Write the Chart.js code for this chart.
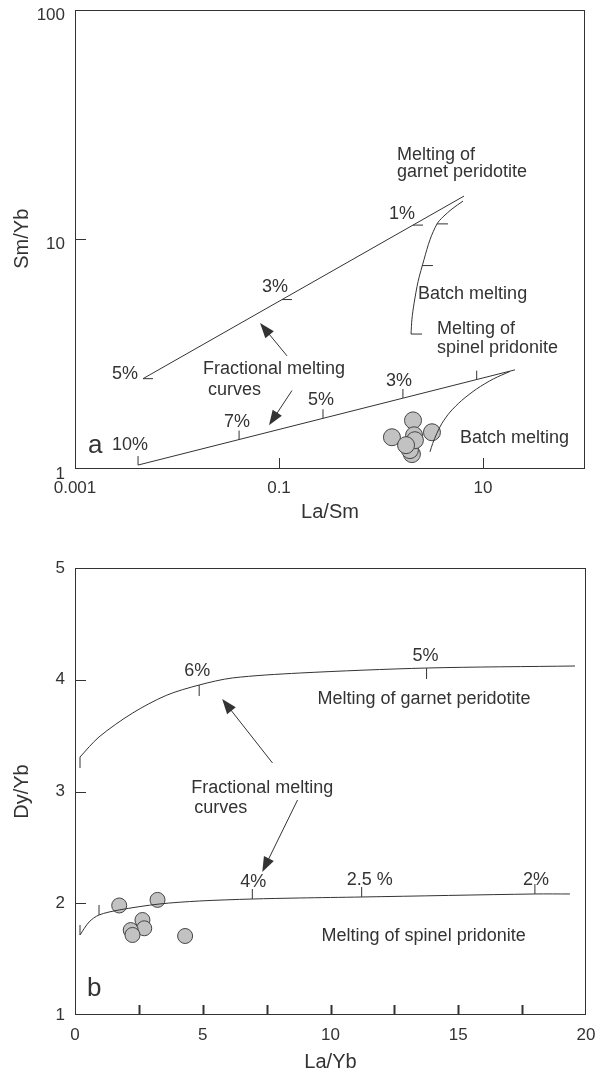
<!DOCTYPE html>
<html>
<head>
<meta charset="utf-8">
<script src="https://cdn.jsdelivr.net/npm/chart.js@4.4.1/dist/chart.umd.min.js"></script>
<style>
  body { margin: 0; background: #fff; }
  canvas { display: block; }
</style>
</head>
<body>
<canvas id="chartA" width="606" height="530"></canvas>
<canvas id="chartB" width="606" height="544"></canvas>
<script>
// ---- panel a: Sm/Yb vs La/Sm (log-log) ----
const garnetFracLaSm = [0.00464, 6.51];
const garnetFracSmYb = [2.453, 15.35];
const garnetFracTickLaSm = [0.00464, 0.107, 2.06];
const garnetFracTickSmYb = [2.453, 5.43, 11.47];
const garnetFracTickLabels = ['5%', '3%', '1%'];

const garnetBatchLaSm = [6.37, 4.97, 4.05, 3.54, 3.02, 2.64, 2.31, 2.11, 2.01, 1.97];
const garnetBatchSmYb = [14.6, 13.49, 12.45, 11.61, 9.90, 8.11, 6.51, 5.23, 4.46, 3.84];
const garnetBatchTickLaSm = [3.54, 2.52, 1.97];
const garnetBatchTickSmYb = [11.61, 7.64, 3.84];

const spinelFracLaSm = [0.00415, 20.6];
const spinelFracSmYb = [1.03, 2.68];
const spinelFracTickLaSm = [0.00415, 0.0406, 0.270, 1.64, 8.67];
const spinelFracTickSmYb = [1.03, 1.331, 1.648, 2.02, 2.43];
const spinelFracTickLabels = ['10%', '7%', '5%', '3%', ''];

const spinelBatchLaSm = [18.4, 12.6, 8.67, 6.18, 4.75, 3.94, 3.52, 3.21, 3.02];
const spinelBatchSmYb = [2.638, 2.445, 2.213, 1.97, 1.753, 1.561, 1.413, 1.279, 1.176];

const samplesLaSm = [2.01, 1.92, 2.06, 2.11, 2.15, 3.16, 1.28, 1.76];
const samplesSmYb = [1.150, 1.197, 1.613, 1.389, 1.322, 1.432, 1.362, 1.258];

const laSmTicks = [0.001, 0.1, 10];
const laSmTickLabels = ['0.001', '0.1', '10'];
const smYbTicks = [1, 10, 100];
const smYbTickLabels = ['1', '10', '100'];

// ---- panel b: Dy/Yb vs La/Yb ----
const garnetLaYb = [0.196, 0.94, 2.24, 3.57, 4.86, 6.16, 8.78, 13.76, 19.57];
const garnetDyYb = [3.309, 3.488, 3.70, 3.86, 3.953, 4.016, 4.06, 4.105, 4.123];
const garnetTickLaYb = [0.196, 4.86, 13.76];
const garnetTickDyYb = [3.309, 3.953, 4.105];
const garnetTickLabels = ['', '6%', '5%'];

const spinelLaYb = [0.196, 0.55, 0.94, 1.73, 3.29, 4.86, 6.94, 8.78, 11.22, 18.0, 19.37];
const spinelDyYb = [1.716, 1.832, 1.895, 1.940, 1.993, 2.02, 2.038, 2.047, 2.056, 2.083, 2.083];
const spinelTickLaYb = [0.196, 0.94, 6.94, 11.22, 18.0];
const spinelTickDyYb = [1.716, 1.895, 2.038, 2.056, 2.083];
const spinelTickLabels = ['', '', '4%', '2.5 %', '2%'];

const samplesLaYb = [1.73, 3.23, 2.64, 2.71, 2.18, 2.25, 4.31];
const samplesDyYb = [1.98, 2.03, 1.85, 1.776, 1.76, 1.716, 1.707];

const laYbTicks = [0, 5, 10, 15, 20];
const laYbMinorTicks = [2.5, 5, 7.5, 10, 12.5, 15, 17.5];
const dyYbTicks = [1, 2, 3, 4, 5];

const ink = '#333';
const font = 'Liberation Sans, Arial, sans-serif';

function pts(xs, ys) { return xs.map((v, i) => ({ x: v, y: ys[i] })); }

function line(xs, ys, tension) {
  return { data: pts(xs, ys), showLine: true, pointRadius: 0, borderColor: ink,
           borderWidth: 1, tension: tension || 0, fill: false };
}

function samples(xs, ys, r) {
  return { data: pts(xs, ys), showLine: false, pointRadius: r, pointHoverRadius: r,
           backgroundColor: '#c2c2c2', borderColor: '#444', borderWidth: 1 };
}

function drawArrow(ctx, x0, y0, x1, y1) {
  const ang = Math.atan2(y1 - y0, x1 - x0), len = 15, half = 5.5;
  ctx.beginPath(); ctx.moveTo(x0, y0);
  ctx.lineTo(x1 - Math.cos(ang) * len * 0.8, y1 - Math.sin(ang) * len * 0.8); ctx.stroke();
  ctx.beginPath(); ctx.moveTo(x1, y1);
  ctx.lineTo(x1 - Math.cos(ang) * len + Math.sin(ang) * half, y1 - Math.sin(ang) * len - Math.cos(ang) * half);
  ctx.lineTo(x1 - Math.cos(ang) * len - Math.sin(ang) * half, y1 - Math.sin(ang) * len + Math.cos(ang) * half);
  ctx.closePath(); ctx.fill();
}

// frame, inward ticks, curve ticks, notes and arrows
const decor = {
  id: 'decor',
  afterDatasetsDraw(chart, args, o) {
    const { ctx, chartArea: a, scales: { x, y } } = chart;
    ctx.save();
    ctx.strokeStyle = ink; ctx.fillStyle = ink; ctx.lineWidth = 1;
    ctx.strokeRect(Math.round(a.left) + 0.5, Math.round(a.top) + 0.5,
                   Math.round(a.width) - 1, Math.round(a.height) - 1);
    ctx.lineWidth = o.xTickWidth || 1;
    o.xTicks.forEach(v => {
      const px = Math.round(x.getPixelForValue(v)) + 0.5;
      ctx.beginPath(); ctx.moveTo(px, a.bottom); ctx.lineTo(px, a.bottom - 10); ctx.stroke();
    });
    ctx.lineWidth = 1;
    o.yTicks.forEach(v => {
      const py = Math.round(y.getPixelForValue(v)) + 0.5;
      ctx.beginPath(); ctx.moveTo(a.left, py); ctx.lineTo(a.left + 11, py); ctx.stroke();
    });
    ctx.font = '18px ' + font;
    ctx.textAlign = 'center'; ctx.textBaseline = 'middle';
    o.curveTicks.forEach(t => {
      t.xs.forEach((v, i) => {
        const px = x.getPixelForValue(v), py = y.getPixelForValue(t.ys[i]);
        ctx.beginPath(); ctx.moveTo(px, py); ctx.lineTo(px + t.dx * t.len, py + t.dy * t.len); ctx.stroke();
        if (t.labels && t.labels[i]) {
          const off = t.offsets[i];
          ctx.fillText(t.labels[i], px + off[0], py + off[1]);
        }
      });
    });
    ctx.textAlign = 'left';
    o.notes.forEach(n => {
      ctx.font = (n.size || 18) + 'px ' + font;
      ctx.fillText(n.text, x.getPixelForValue(n.at[0]), y.getPixelForValue(n.at[1]));
    });
    o.arrows.forEach(r => {
      drawArrow(ctx, x.getPixelForValue(r.from[0]), y.getPixelForValue(r.from[1]),
                x.getPixelForValue(r.to[0]), y.getPixelForValue(r.to[1]));
    });
    ctx.restore();
  }
};

function axis(type, min, max, ticks, labels, title, size, titlePad, labelOffset) {
  return {
    type: type, min: min, max: max,
    grid: { display: false, drawTicks: false },
    border: { display: false },
    afterBuildTicks: s => { s.ticks = ticks.map(v => ({ value: v })); },
    afterFit: s => {
      if (s.isHorizontal()) s.height = size; else s.width = size;
      // keep the plot box where it is; labels may overhang the padding
      s.paddingTop = 0; s.paddingBottom = 0; s.paddingLeft = 0; s.paddingRight = 0;
    },
    ticks: { color: ink, padding: 10, autoSkip: false, maxRotation: 0,
             labelOffset: labelOffset || 0,
             font: { family: font, size: 17 },
             callback: (v, i) => labels[i] },
    title: { display: true, text: title, color: ink, padding: titlePad,
             font: { family: font, size: 20 } }
  };
}

new Chart(document.getElementById('chartA'), {
  type: 'scatter',
  data: {
    datasets: [
      line(garnetFracLaSm, garnetFracSmYb),
      line(garnetBatchLaSm, garnetBatchSmYb, 0.3),
      line(spinelFracLaSm, spinelFracSmYb),
      line(spinelBatchLaSm, spinelBatchSmYb, 0.3),
      samples(samplesLaSm, samplesSmYb, 8.5)
    ]
  },
  options: {
    responsive: false, animation: false,
    layout: { padding: { top: 6, right: 21, left: 0, bottom: 0 } },
    scales: {
      x: axis('logarithmic', 0.001, 100, laSmTicks, laSmTickLabels, 'La/Sm', 62, { top: 4, bottom: 6 }),
      y: axis('logarithmic', 1, 100, smYbTicks, smYbTickLabels, 'Sm/Yb', 75, { top: 10, bottom: 0 }, 6)
    },
    plugins: {
      legend: { display: false }, tooltip: { enabled: false },
      decor: {
        xTicks: [0.1, 10], yTicks: [10],
        curveTicks: [
          { xs: garnetFracTickLaSm, ys: garnetFracTickSmYb, dx: 1, dy: 0, len: 10,
            labels: garnetFracTickLabels, offsets: [[-18, -5], [-7, -13], [-11, -11]] },
          { xs: garnetBatchTickLaSm, ys: garnetBatchTickSmYb, dx: 1, dy: 0, len: 11 },
          { xs: spinelFracTickLaSm, ys: spinelFracTickSmYb, dx: 0, dy: -1, len: 9,
            labels: spinelFracTickLabels, offsets: [[-8, -20], [-2, -18], [-2, -18], [-4, -17], [0, 0]] }
        ],
        notes: [
          { text: 'Melting of', at: [1.435, 23.1] },
          { text: 'garnet peridotite', at: [1.435, 19.5] },
          { text: 'Batch melting', at: [2.31, 5.72] },
          { text: 'Melting of', at: [3.54, 4.04] },
          { text: 'spinel pridonite', at: [3.54, 3.34] },
          { text: 'Batch melting', at: [5.95, 1.349] },
          { text: 'Fractional melting', at: [0.018, 2.71] },
          { text: 'curves', at: [0.0201, 2.198] },
          { text: 'a', at: [0.00134, 1.245], size: 26 }
        ],
        arrows: [
          { from: [0.1198, 3.084], to: [0.0652, 4.286] },
          { from: [0.134, 2.177], to: [0.0798, 1.535] }
        ]
      }
    }
  },
  plugins: [decor]
});

new Chart(document.getElementById('chartB'), {
  type: 'scatter',
  data: {
    datasets: [
      line(garnetLaYb, garnetDyYb, 0.3),
      line(spinelLaYb, spinelDyYb, 0.3),
      samples(samplesLaYb, samplesDyYb, 7.5)
    ]
  },
  options: {
    responsive: false, animation: false,
    layout: { padding: { top: 38, right: 20, left: 0, bottom: 0 } },
    scales: {
      x: axis('linear', 0, 20, laYbTicks, laYbTicks.map(String), 'La/Yb', 59, { top: 4, bottom: 0 }),
      y: axis('linear', 1, 5, dyYbTicks, dyYbTicks.map(String), 'Dy/Yb', 75, { top: 10, bottom: 0 })
    },
    plugins: {
      legend: { display: false }, tooltip: { enabled: false },
      decor: {
        xTicks: laYbMinorTicks, xTickWidth: 2, yTicks: [2, 3, 4],
        curveTicks: [
          { xs: garnetTickLaYb, ys: garnetTickDyYb, dx: 0, dy: 1, len: 11,
            labels: garnetTickLabels, offsets: [[0, 0], [-2, -14], [-1, -12]] },
          { xs: spinelTickLaYb, ys: spinelTickDyYb, dx: 0, dy: -1, len: 10,
            labels: spinelTickLabels, offsets: [[0, 0], [0, 0], [1, -17], [8, -17], [1, -14]] }
        ],
        notes: [
          { text: 'Melting of garnet peridotite', at: [9.49, 3.828] },
          { text: 'Fractional melting', at: [4.55, 3.031] },
          { text: 'curves', at: [4.67, 2.852] },
          { text: 'Melting of spinel pridonite', at: [9.65, 1.707] },
          { text: 'b', at: [0.47, 1.233], size: 26 }
        ],
        arrows: [
          { from: [7.73, 3.255], to: [5.76, 3.828] },
          { from: [8.71, 2.924], to: [7.33, 2.28] }
        ]
      }
    }
  },
  plugins: [decor]
});
</script>
</body>
</html>
